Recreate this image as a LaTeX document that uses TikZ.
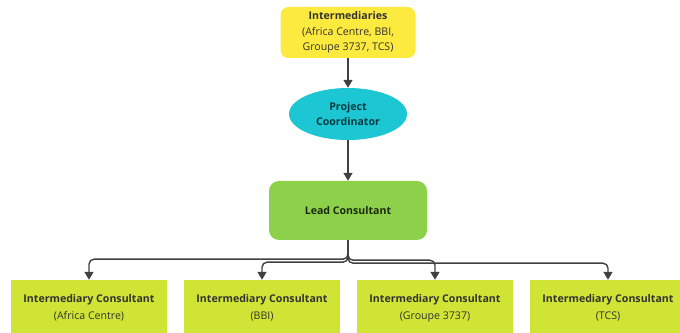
\documentclass[tikz,border=0pt]{standalone}
\usepackage{fontspec}
\setmainfont{Open Sans}
\usetikzlibrary{arrows.meta,shapes.geometric}
\definecolor{interyellow}{HTML}{FDEA3E}
\definecolor{coordcyan}{HTML}{1CC6D2}
\definecolor{leadgreen}{HTML}{8CD149}
\definecolor{consultlime}{HTML}{CFE434}
\definecolor{linegray}{HTML}{404040}
\begin{document}
\begin{tikzpicture}
        [x=1pt, y=1pt,
        topbox/.style={rectangle, rounded corners=8pt, fill=interyellow, minimum width=135pt, minimum height=51pt, inner sep=0pt, align=center, font=\fontsize{10.6}{15.5}\selectfont, text=black!80},
        coord/.style={ellipse, fill=coordcyan, minimum width=118pt, minimum height=52pt, inner sep=0pt, align=center, font=\bfseries\fontsize{10.6}{15}\selectfont, text=black!70!coordcyan},
        lead/.style={rectangle, rounded corners=10pt, fill=leadgreen, minimum width=158pt, minimum height=59pt, font=\bfseries\fontsize{10.6}{13}\selectfont, text=black!80!leadgreen},
        consult/.style={rectangle, fill=consultlime, minimum width=156pt, minimum height=56pt, align=center, font=\fontsize{10.6}{17}\selectfont, text=black!80},
        conn/.style={draw=linegray, line width=1.4pt, rounded corners=5pt, -{Triangle[width=9pt,length=8pt]}}]
        
        \useasboundingbox (0,0) rectangle (680,332);
        
        % Top of the chart
        \node[topbox] (inter) at (348,299.5) {\textbf{Intermediaries}\\(Africa Centre, BBI,\\Groupe 3737, TCS)};
        \node[coord] (pc) at (348,218) {Project\\Coordinator};
        \node[lead] (lc) at (348,121.5) {Lead Consultant};
        
        % Intermediary consultants
        \node[consult] (ac) at (89,24) {\textbf{Intermediary Consultant}\\(Africa Centre)};
        \node[consult] (bbi) at (262,24) {\textbf{Intermediary Consultant}\\(BBI)};
        \node[consult] (g37) at (435,24) {\textbf{Intermediary Consultant}\\(Groupe 3737)};
        \node[consult] (tcs) at (608,24) {\textbf{Intermediary Consultant}\\(TCS)};
        
        % Vertical links
        \draw[conn] (inter.south) -- (pc.north);
        \draw[conn] (pc.south) -- (lc.north);
        
        % Branches to the consultants
        \draw[conn] (lc.south) -- ++(0,-19) -| (ac.north);
        \draw[conn] (lc.south) -- ++(0,-22) -| (bbi.north);
        \draw[conn] (lc.south) -- ++(0,-20) -| (g37.north);
        \draw[conn] (lc.south) -- ++(0,-23) -| (tcs.north);
        
    \end{tikzpicture}
\end{document}
